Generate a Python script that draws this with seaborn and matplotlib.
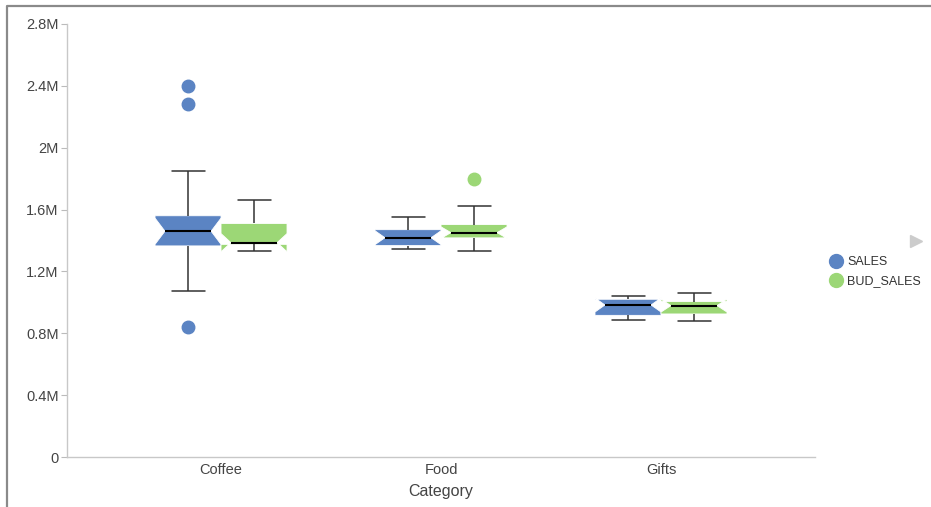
import pandas as pd
import seaborn as sns
import matplotlib.pyplot as plt
from matplotlib.lines import Line2D
from matplotlib.ticker import FuncFormatter


# ==============================
# Data
# ==============================
categories = ["Coffee", "Food", "Gifts"]
series = ["SALES", "BUD_SALES"]

coffee_sales = [840000, 1075000, 1300000, 1365000, 1400000, 1440000, 1460000,
                1490000, 1520000, 1560000, 1850000, 2280000, 2400000]
coffee_bud = [1334000, 1350000, 1370000, 1375000, 1380000, 1383000, 1386000,
              1410000, 1460000, 1510000, 1540000, 1600000, 1660000]
food_sales = [1345000, 1350000, 1360000, 1367000, 1390000, 1410000, 1418000,
              1430000, 1450000, 1470000, 1490000, 1520000, 1550000]
food_bud = [1334000, 1370000, 1400000, 1417000, 1430000, 1440000, 1451000,
            1470000, 1490000, 1503000, 1530000, 1620000, 1795000]
gifts_sales = [884000, 895000, 905000, 916000, 940000, 965000, 983000,
               995000, 1010000, 1020000, 1030000, 1035000, 1041000]
gifts_bud = [877000, 900000, 925000, 950000, 979000, 990000, 1005000,
             1030000, 1061000]

colors = ["#5b84c3", "#9cd776"]


# ==============================
# Build long table
# ==============================
groups = {
    ("Coffee", "SALES"): coffee_sales,
    ("Coffee", "BUD_SALES"): coffee_bud,
    ("Food", "SALES"): food_sales,
    ("Food", "BUD_SALES"): food_bud,
    ("Gifts", "SALES"): gifts_sales,
    ("Gifts", "BUD_SALES"): gifts_bud,
}
rows = []
for (cat, ser), vals in groups.items():
    for v in vals:
        rows.append({"Category": cat, "Series": ser, "Value": v})
df = pd.DataFrame(rows)


# ==============================
# Plot
# ==============================
sns.set_style("white")
plt.rcParams["font.family"] = ["Liberation Sans", "DejaVu Sans"]

fig = plt.figure(figsize=(9.31, 5.07), dpi=100)
ax = fig.add_axes([0.072, 0.0986, 0.8034, 0.8541])

sns.boxplot(
    data=df, x="Category", y="Value", hue="Series",
    order=categories, hue_order=series, palette=colors,
    saturation=1, width=0.6, gap=0, notch=True,
    linecolor="#333333", linewidth=1.1,
    boxprops=dict(edgecolor="white", linewidth=0.6),
    medianprops=dict(color="black", linewidth=1.5),
    legend=False, ax=ax,
)

# filled round fliers in the series colour, wider notch like the original
for cont, col in zip(ax.containers, colors):
    for fl in cont.fliers:
        fl.set_marker("o")
        fl.set_markersize(9)
        fl.set_markerfacecolor(col)
        fl.set_markeredgecolor(col)
    for box, med in zip(cont.boxes, cont.medians):
        verts = box.get_path().vertices
        left, right = verts[0, 0], verts[1, 0]
        c = (left + right) / 2
        h = (right - left) / 2 * 0.7
        verts[3, 0] = c + h
        verts[8, 0] = c - h
        med.set_xdata([c - h, c + h])

ax.set_xlim(-0.7, 2.7)
ax.set_ylim(0, 2.8e6)
ax.set_yticks([0, 0.4e6, 0.8e6, 1.2e6, 1.6e6, 2.0e6, 2.4e6, 2.8e6])
ax.yaxis.set_major_formatter(
    FuncFormatter(lambda v, p: "0" if v == 0 else f"{v / 1e6:g}M"))

ax.tick_params(axis="y", length=4, width=0.8, color="#bbbbbb",
               labelsize=10.5, labelcolor="#444444", pad=2, left=True)
ax.tick_params(axis="x", length=0, labelsize=10.5, labelcolor="#444444", pad=4)
ax.set_xlabel("Category", fontsize=11.5, color="#444444", labelpad=5)
ax.set_ylabel("")

for side in ["top", "right"]:
    ax.spines[side].set_visible(False)
ax.spines["left"].set_color("#c8c8c8")
ax.spines["bottom"].set_color("#c8c8c8")
ax.spines["left"].set_linewidth(1)
ax.spines["bottom"].set_linewidth(1)

# legend
handles = [Line2D([], [], ls="", marker="o", markersize=10,
                  markerfacecolor=c, markeredgecolor=c) for c in colors]
fig.legend(handles, series, loc="center left", bbox_to_anchor=(0.881, 0.464),
           frameon=False, fontsize=9, handlelength=0.8, handletextpad=0.45,
           labelspacing=0.55, labelcolor="#333333")

# legend paging arrow and outer panel border
fig.add_artist(Line2D([916 / 931], [1 - 241 / 507], transform=fig.transFigure,
                      marker=">", markersize=8, ls="", color="#cccccc"))
fig.add_artist(Line2D([7 / 931, 7 / 931, 1], [0, 1 - 6 / 507, 1 - 6 / 507],
                      transform=fig.transFigure, color="#8a8a8a", lw=1.6))

plt.savefig("out.png", dpi=100)
